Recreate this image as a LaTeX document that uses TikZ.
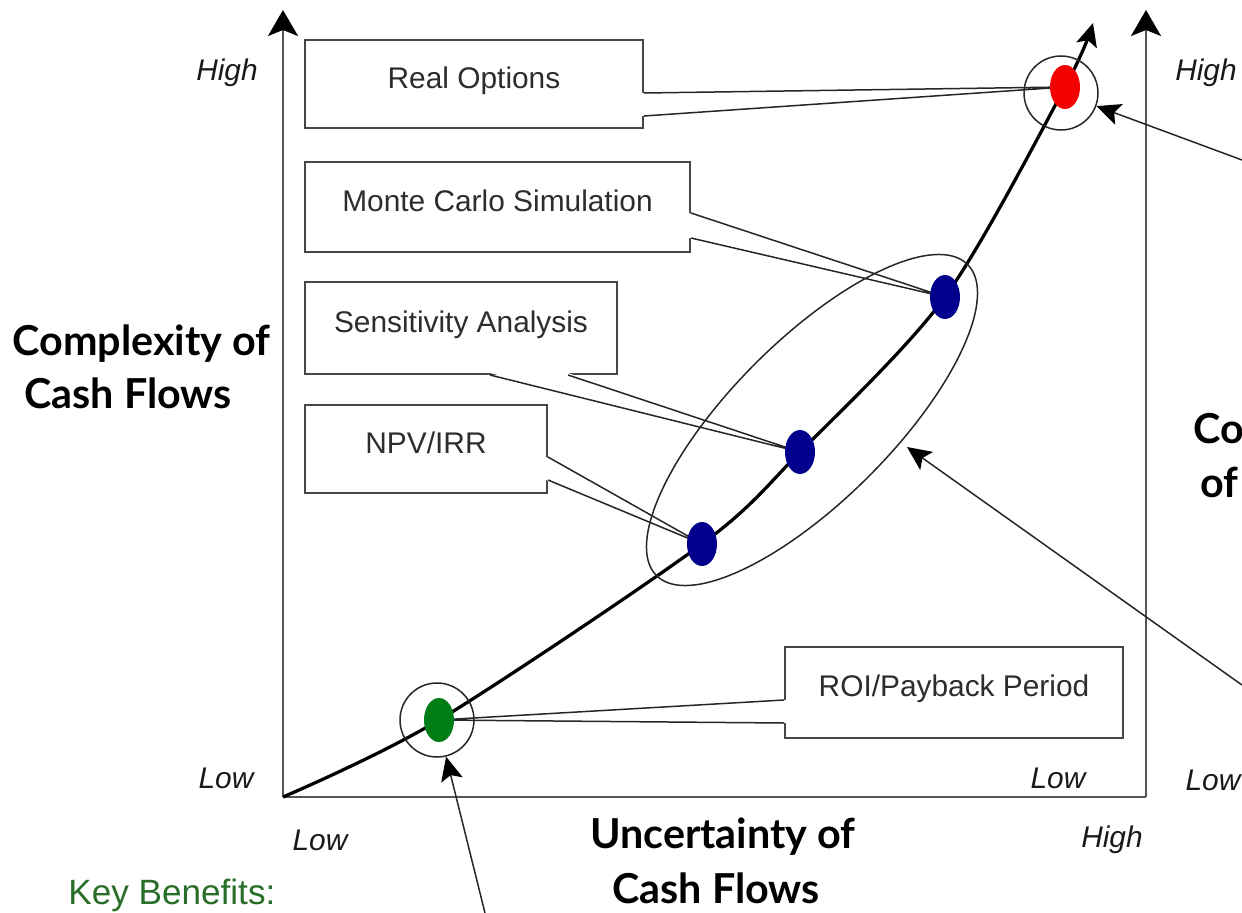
\documentclass[tikz,border=0pt]{standalone}
\usepackage{fontspec}
\setmainfont{Liberation Sans}
\newfontfamily\bigfont{Lato}
\usetikzlibrary{arrows.meta,shapes.geometric,calc}
\definecolor{boxline}{RGB}{70,70,70}
\definecolor{boxtext}{RGB}{45,45,45}
\definecolor{axisgray}{RGB}{85,85,85}
\definecolor{dotred}{RGB}{245,0,0}
\definecolor{dotblue}{RGB}{0,0,140}
\definecolor{dotgreen}{RGB}{0,125,20}
\definecolor{keygreen}{RGB}{40,110,40}
\begin{document}
\begin{tikzpicture}[x=0.02cm,y=-0.02cm,
  axisline/.style={line width=0.05cm, draw=axisgray},
  bigtip/.style={-{Stealth[length=0.52cm,width=0.6cm,inset=0.12cm,color=black]}},
  ptr/.style={line width=0.03cm, draw=black!85, -{Stealth[length=0.48cm,width=0.44cm,inset=0.1cm,color=black]}},
  mbox/.style={draw=boxline, line width=0.04cm, fill=white, inner sep=0pt,
    font=\fontsize{17}{20}\selectfont, text=boxtext, text height=0.72em, text depth=0.21em},
  wedge/.style={line width=0.03cm, draw=black!85},
  thinring/.style={draw=black!85, line width=0.03cm, inner sep=0pt},
  dot/.style={ellipse, draw=none, minimum width=0.6cm, minimum height=0.88cm, inner sep=0pt},
  curve/.style={line width=0.065cm, draw=black, -{Stealth[length=0.46cm,width=0.42cm,inset=0.1cm]}},
  axlab/.style={font=\fontsize{17}{20}\selectfont\itshape, text=black!90, anchor=base, inner sep=0pt},
  biglab/.style={font=\bigfont\bfseries\fontsize{23.5}{27}\selectfont, anchor=base west, inner sep=0pt}
]
\useasboundingbox (0,0) rectangle (1242,913);

% axes
\coordinate (O) at (283,797);
\coordinate (Ytop) at (283,10);
\coordinate (Rbot) at (1146,797);
\coordinate (Rtop) at (1146,10);
\draw[axisline, bigtip] (O) -- (Ytop);
\draw[axisline] (O) -- (Rbot);
\draw[axisline, bigtip] (Rbot) -- (Rtop);

% dot positions
\coordinate (pG) at (439,720);
\coordinate (pB1) at (702,544);
\coordinate (pB2) at (800,452);
\coordinate (pB3) at (945,297);
\coordinate (pR) at (1065,87);
\coordinate (cEnd) at (1093,23);

% boxes
\node[mbox, minimum width=6.76cm, minimum height=1.76cm] (ro) at (474,84) {Real Options};
\node[mbox, minimum width=7.7cm, minimum height=1.8cm] (mc) at (497.5,207) {Monte Carlo Simulation};
\node[mbox, minimum width=6.24cm, minimum height=1.84cm] (sa) at (461,328) {Sensitivity Analysis};
\node[mbox, minimum width=4.84cm, minimum height=1.76cm] (np) at (426,449) {NPV/IRR};
\node[mbox, minimum width=6.76cm, minimum height=1.82cm] (roi) at (954,692.5) {ROI/Payback Period};

% callout wedges
\coordinate (ro1) at (ro.east |- 0,93);
\coordinate (ro2) at (ro.east |- 0,116);
\fill[white] ($(ro1)+(-2,0)$) -- (pR) -- ($(ro2)+(-2,0)$) -- cycle;
\draw[wedge] (ro1) -- (pR) -- (ro2);

\coordinate (mc1) at (mc.east |- 0,213);
\coordinate (mc2) at (mc.east |- 0,238);
\fill[white] ($(mc1)+(-2,0)$) -- (pB3) -- ($(mc2)+(-2,0)$) -- cycle;
\draw[wedge] (mc1) -- (pB3) -- (mc2);

\coordinate (sa1) at (490,0 |- sa.south);
\coordinate (sa2) at (568,0 |- sa.south);
\fill[white] ($(sa1)+(0,-2)$) -- (pB2) -- ($(sa2)+(0,-2)$) -- cycle;
\draw[wedge] (sa1) -- (pB2) -- (sa2);

\coordinate (np1) at (np.east |- 0,457);
\coordinate (np2) at (np.east |- 0,480);
\fill[white] ($(np1)+(-2,0)$) -- (pB1) -- ($(np2)+(-2,0)$) -- cycle;
\draw[wedge] (np1) -- (pB1) -- (np2);

\coordinate (roi1) at (roi.west |- 0,700);
\coordinate (roi2) at (roi.west |- 0,723);
\fill[white] ($(roi1)+(2,0)$) -- (pG) -- ($(roi2)+(2,0)$) -- cycle;
\draw[wedge] (roi1) -- (pG) -- (roi2);

% main curve
\draw[curve] plot[smooth, tension=0.5] coordinates {(O) (pG) (pB1) (pB2) (pB3) (pR) (cEnd)};

% group ellipse and rings
\node[thinring, ellipse, minimum width=8.8cm, minimum height=3.2cm, rotate=45] (grp) at (812,420) {};
\node[thinring, circle, minimum size=1.48cm] (ringG) at (437,720) {};
\node[thinring, circle, minimum size=1.48cm] (ringR) at (1061,93) {};

% dots
\node[dot, fill=dotgreen] (G) at (pG) {};
\node[dot, fill=dotblue] (B1) at (pB1) {};
\node[dot, fill=dotblue] (B2) at (pB2) {};
\node[dot, fill=dotblue] (B3) at (pB3) {};
\node[dot, fill=dotred] (R) at (pR) {};

% pointer arrows
\coordinate (e1) at (1242,160);
\draw[ptr] (e1) -- (ringR);
\coordinate (e2) at (1242,685);
\coordinate (t2) at (907,447);
\draw[ptr] (e2) -- (t2);
\coordinate (e3) at (485,913);
\draw[ptr] (e3) -- (ringG);

% axis labels
\node[axlab] (hiL) at (227,80) {High};
\node[axlab] (loL) at (226,788) {Low};
\node[axlab] (loB) at (320,850) {Low};
\node[axlab] (hiB) at (1112,847) {High};
\node[axlab] (loR1) at (1058,788) {Low};
\node[axlab] (loR2) at (1213,790) {Low};
\node[axlab] (hiR) at (1206,80) {High};

\node[biglab] (cx1) at (12,355) {Complexity of};
\node[biglab] (cx2) at (24,408) {Cash Flows};
\node[biglab] (un1) at (590,848) {Uncertainty of};
\node[biglab] (un2) at (612,903) {Cash Flows};
\node[biglab] (co1) at (1193,443) {Co};
\node[biglab] (co2) at (1200,497) {of};

\node[font=\fontsize{20}{24}\selectfont, text=keygreen, anchor=base west, inner sep=0pt] (kb) at (68,904) {Key Benefits:};
\end{tikzpicture}
\end{document}
